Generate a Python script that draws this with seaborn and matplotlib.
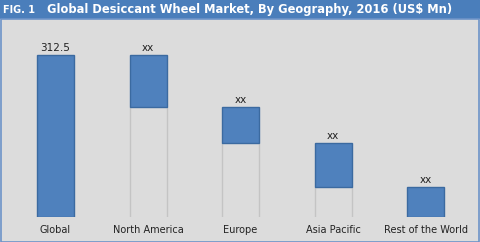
import matplotlib
matplotlib.use("Agg")
import matplotlib.pyplot as plt
from matplotlib.patches import Rectangle
import seaborn as sns
import pandas as pd
import numpy as np

categories = ["Global", "North America", "Europe", "Asia Pacific", "Rest of the World"]
values = [312.5, 100.0, 70.0, 84.0, 58.5]
value_labels = ["312.5", "xx", "xx", "xx", "xx"]
title = "Global Desiccant Wheel Market, By Geography, 2016 (US$ Mn)"
fig_label = "FIG. 1"

# waterfall bottoms
total = values[0]
bottoms = [0.0]
running = total
for v in values[1:]:
    running -= v
    bottoms.append(running)

df = pd.DataFrame({"category": categories, "value": values, "bottom": bottoms})

sns.set_style("white")
plt.rcParams["font.family"] = ["DejaVu Sans"]

W, H = 480, 242
fig = plt.figure(figsize=(W / 100, H / 100), dpi=100)
fig.patch.set_facecolor("#dcdcdc")

# header band
fig.patches.append(Rectangle((0, 1 - 19 / H), 1, 19 / H, transform=fig.transFigure,
                             facecolor="#4a7ebb", edgecolor="none", zorder=0))
# border around body
fig.patches.append(Rectangle((0.5 / W, 0.5 / H), 1 - 1.5 / W, 1 - 19 / H - 0.5 / H,
                             transform=fig.transFigure, facecolor="none",
                             edgecolor="#6d93c8", linewidth=1.2, zorder=1))
fig.text(3 / W, 1 - 10 / H, fig_label, color="white", fontsize=7, fontweight="bold",
         va="center", ha="left")
fig.text(47 / W, 1 - 10 / H, title, color="white", fontsize=8.3, fontweight="bold",
         va="center", ha="left")

ymax = 360
px_per_unit = 162 / 312.5
ax_h = ymax * px_per_unit
ax_bottom = (H - 217) / H
left = 9.25 / W
right = 471.75 / W
ax = fig.add_axes([left, ax_bottom, right - left, ax_h / H])
ax.set_facecolor("none")

sns.barplot(data=df, x="category", y="value", bottom=df["bottom"].values, ax=ax,
            color="#4f81bd", width=0.4, edgecolor="#3b6aa0", linewidth=1.0,
            saturation=1, zorder=3)

# connector lines for floating bars
for i, b in enumerate(bottoms):
    if b > 0:
        ax.vlines([i - 0.2, i + 0.2], 0, b, color="#c4c4c4", linewidth=1.0, zorder=2)

for i, (v, b, lab) in enumerate(zip(values, bottoms, value_labels)):
    ax.text(i, b + v + 4, lab, ha="center", va="bottom", fontsize=7.5, color="#222222")

ax.set_xlim(-0.5, 4.5)
ax.set_ylim(0, ymax)
ax.set_yticks([])
ax.set_xlabel("")
ax.set_ylabel("")
ax.tick_params(axis="x", length=0, pad=6, labelsize=7, labelcolor="#222222")
for s in ax.spines.values():
    s.set_visible(False)

fig.savefig("out.png", dpi=100, facecolor=fig.get_facecolor())
